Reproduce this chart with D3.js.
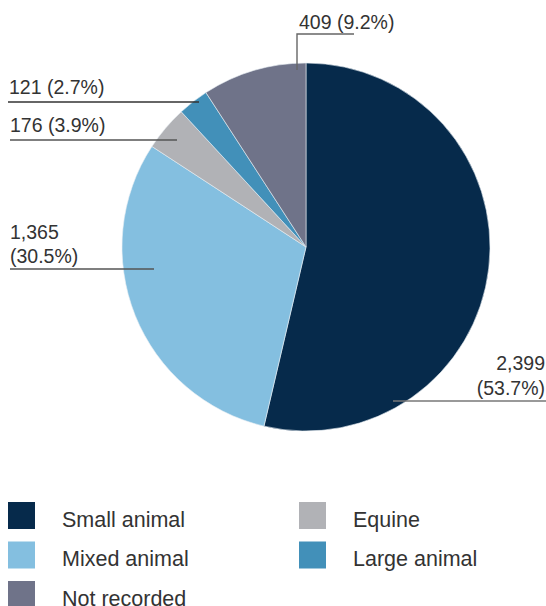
<!DOCTYPE html>
<html><head><meta charset="utf-8">
<script src="https://cdn.jsdelivr.net/npm/d3@7"></script>
<style>body{margin:0;background:#fff}svg{display:block}text{font-family:"Liberation Sans",Arial,sans-serif;fill:#333}</style>
</head><body>
<svg id="c" width="546" height="606"></svg>
<script>
const categories = ["Small animal","Mixed animal","Equine","Large animal","Not recorded"];
const values = [2399,1365,176,121,409];
const percents = ["53.7%","30.5%","3.9%","2.7%","9.2%"];
const colors = ["#062a4b","#84bfe0","#b1b2b6","#4290b9","#6f7389"];
const legendOrder = ["Small animal","Equine","Mixed animal","Large animal","Not recorded"];

const svg = d3.select("#c");
const cx = 306, cy = 247, R = 184;
const pie = d3.pie().sort(null).value(d=>d)(values);
const arc = d3.arc().innerRadius(0).outerRadius(R);
const g = svg.append("g").attr("transform",`translate(${cx},${cy})`);
g.selectAll("path").data(pie).join("path")
  .attr("d",arc).attr("fill",(d,i)=>colors[i])
  .attr("stroke","#e8eef3").attr("stroke-width",0.6);

const fmt = d3.format(",");
const layout = [
  {lines:[fmt(values[0]), "("+percents[0]+")"], anchor:"end", x:545, ys:[370,395], path:[[546,401],[393,401]], stroke:"#777"},
  {lines:[fmt(values[1]), "("+percents[1]+")"], anchor:"start", x:10, ys:[239,263], path:[[10,269],[154,269]], stroke:"#555"},
  {lines:[fmt(values[2])+" ("+percents[2]+")"], anchor:"start", x:10, ys:[132], path:[[10,140],[177,140]], stroke:"#555"},
  {lines:[fmt(values[3])+" ("+percents[3]+")"], anchor:"start", x:9, ys:[94], path:[[8,102],[199,102]], stroke:"#333"},
  {lines:[fmt(values[4])+" ("+percents[4]+")"], anchor:"start", x:299, ys:[29], path:[[354,34],[297,34],[297,70]], stroke:"#666"}
];
const lab = svg.append("g");
layout.forEach(L=>{
  lab.append("path").attr("d",d3.line()(L.path)).attr("fill","none")
    .attr("stroke",L.stroke).attr("stroke-width",1.4);
  L.lines.forEach((t,j)=>{
    lab.append("text").attr("x",L.x).attr("y",L.ys[j]).attr("text-anchor",L.anchor)
      .attr("font-size",19.5).text(t);
  });
});

const leg = svg.append("g");
legendOrder.forEach((name,k)=>{
  const col = k%2, row = Math.floor(k/2);
  const x = col===0 ? 8 : 299, y = 502 + row*39.5;
  const i = categories.indexOf(name);
  leg.append("rect").attr("x",x).attr("y",y).attr("width",27).attr("height",27).attr("fill",colors[i]);
  leg.append("text").attr("x",x+54).attr("y",y+24.5).attr("font-size",21.5).text(name);
});
</script>
</body></html>
